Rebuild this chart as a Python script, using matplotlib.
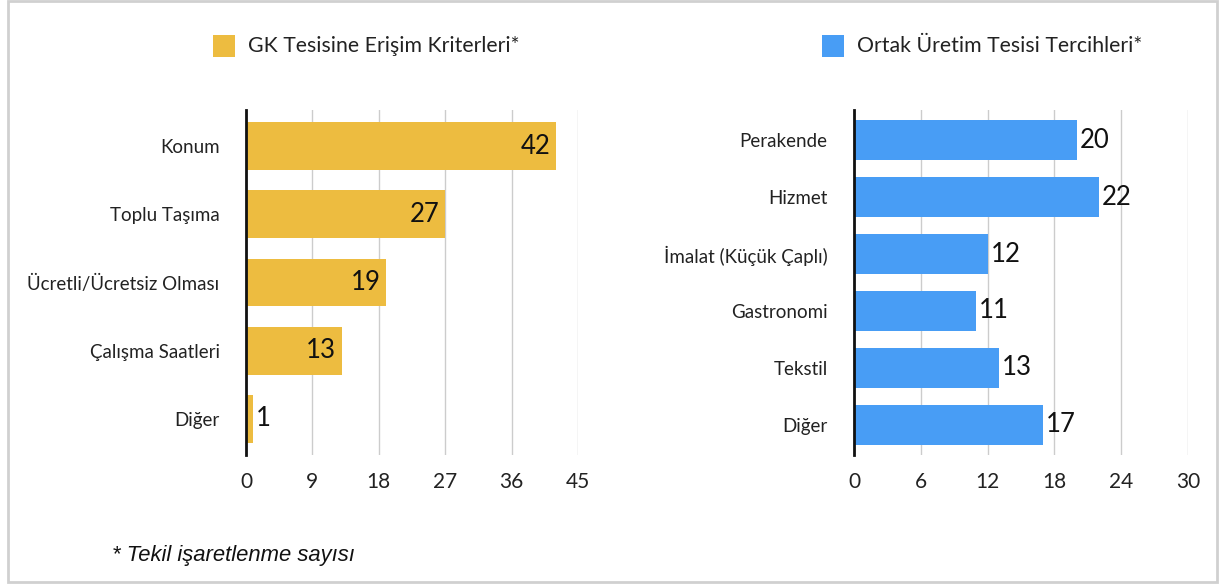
import numpy as np
import matplotlib
matplotlib.use("Agg")
import matplotlib.pyplot as plt
from matplotlib.patches import Rectangle

plt.rcParams['font.family'] = ['Lato', 'DejaVu Sans']

# data
left_cats = ["Konum", "Toplu Taşıma", "Ücretli/Ücretsiz Olması", "Çalışma Saatleri", "Diğer"]
left_vals = [42, 27, 19, 13, 1]
left_ticks = [0, 9, 18, 27, 36, 45]
left_title = "GK Tesisine Erişim Kriterleri*"

right_cats = ["Perakende", "Hizmet", "İmalat (Küçük Çaplı)", "Gastronomi", "Tekstil", "Diğer"]
right_vals = [20, 22, 12, 11, 13, 17]
right_ticks = [0, 6, 12, 18, 24, 30]
right_title = "Ortak Üretim Tesisi Tercihleri*"

footnote = "* Tekil işaretlenme sayısı"

yellow = "#EDBC40"
blue = "#489DF5"
W, H = 1219, 584

fig = plt.figure(figsize=(W / 100, H / 100), dpi=100)
fig.patch.set_facecolor("white")


def draw(rect, cats, vals, ticks, color, inside):
    ax = fig.add_axes(rect)
    y = np.arange(len(cats))
    ax.barh(y, vals, height=0.7, color=color, zorder=2)
    ax.set_ylim(len(cats) - 0.47, -0.53)
    ax.set_xlim(ticks[0], ticks[-1])
    ax.set_xticks(ticks)
    ax.set_yticks(y)
    ax.set_yticklabels(cats, fontsize=13.5, color="#222222")
    ax.tick_params(axis="y", length=0, pad=19)
    ax.tick_params(axis="x", length=0, pad=12, labelsize=15, labelcolor="#222222")
    ax.grid(axis="x", color="#cccccc", linewidth=1.0, zorder=0)
    for s in ["top", "right", "bottom"]:
        ax.spines[s].set_visible(False)
    ax.spines["left"].set_linewidth(2)
    ax.spines["left"].set_color("#111111")
    ax.spines["left"].set_zorder(3)
    for yi, v in zip(y, vals):
        if inside and v > 5:
            ax.annotate(str(v), (v, yi), xytext=(-4, 0), textcoords="offset points",
                        ha="right", va="center", fontsize=18.5, color="#111111", zorder=4)
        else:
            ax.annotate(str(v), (v, yi), xytext=(2, 0), textcoords="offset points",
                        ha="left", va="center", fontsize=18.5, color="#111111", zorder=4)
    return ax


draw([246 / W, 1 - 455 / H, 332 / W, 345 / H], left_cats, left_vals, left_ticks, yellow, True)
draw([854 / W, 1 - 455 / H, 334 / W, 345 / H], right_cats, right_vals, right_ticks, blue, False)

# legends
for x0, col, txt in [(213, yellow, left_title), (822, blue, right_title)]:
    fig.patches.append(Rectangle((x0 / W, 1 - 57 / H), 22 / W, 22 / H, transform=fig.transFigure,
                                 facecolor=col, edgecolor="none"))
    fig.text((x0 + 35) / W, 1 - 46 / H, txt, fontsize=15.3, color="#222222", va="center", ha="left")

fig.text(112 / W, 1 - 556 / H, footnote, fontsize=15.8, style="italic", color="#111111",
         family=["Liberation Sans", "DejaVu Sans"], va="center", ha="left")

# outer frame
fig.patches.append(Rectangle((8 / W, 2 / H), 1209 / W, 581 / H, transform=fig.transFigure,
                             facecolor="none", edgecolor="#d0d0d0", linewidth=2))

fig.savefig("out.png", dpi=100)
